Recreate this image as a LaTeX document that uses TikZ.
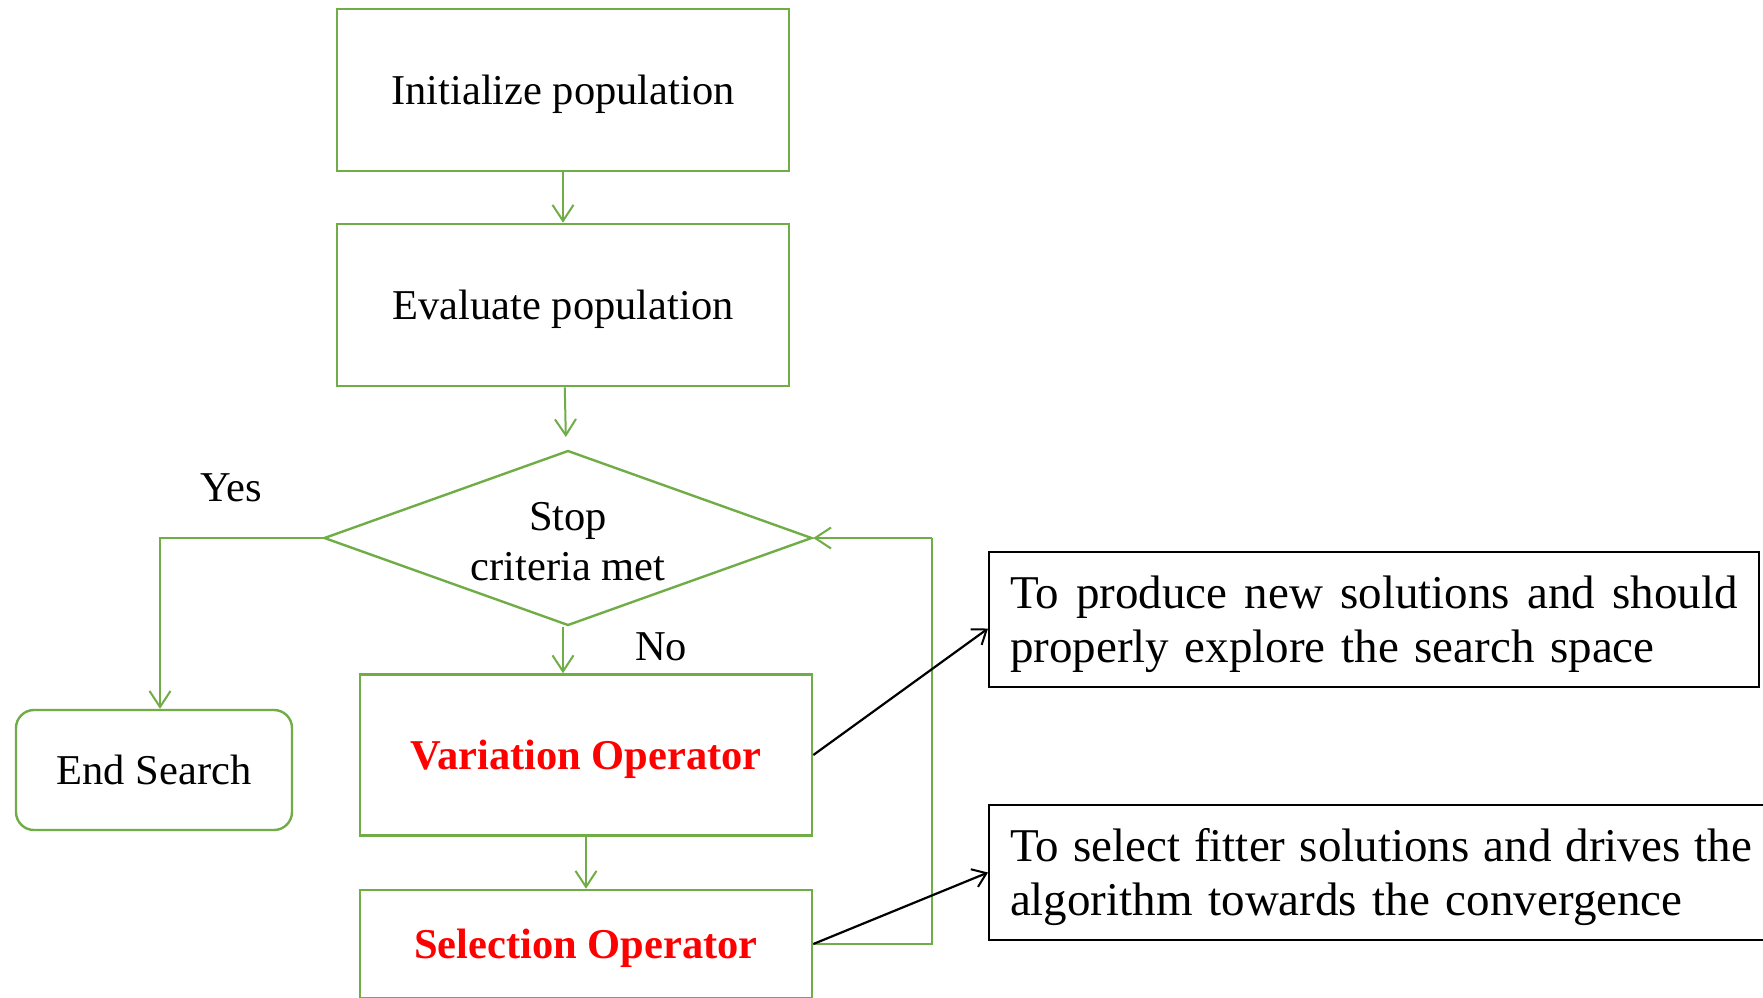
\documentclass[tikz,border=0pt]{standalone}
\usepackage{fontspec}
\setmainfont{Liberation Serif}
\usetikzlibrary{shapes.geometric,arrows.meta}
\definecolor{flowgreen}{RGB}{112,173,71}
\definecolor{oprred}{RGB}{255,0,0}
\tikzset{
  mainfont/.style={font=\fontsize{42.5}{50}\selectfont},
  notefont/.style={font=\fontsize{47}{54}\selectfont},
  stepbox/.style={draw=flowgreen, line width=2.6pt, rectangle, inner sep=0pt,
    minimum width=452pt, text depth=0pt, mainfont},
  decision/.style={draw=flowgreen, line width=2.4pt, diamond, aspect=2.8, inner sep=0pt,
    minimum width=488pt, minimum height=175pt, align=center,
    text height=85pt, text depth=0pt, mainfont},
  termbox/.style={draw=flowgreen, line width=2.4pt, rectangle, rounded corners=18pt,
    inner sep=0pt, minimum width=276pt, minimum height=120pt, mainfont},
  notebox/.style={draw=black, line width=2pt, rectangle, inner sep=0pt,
    align=left, text height=32pt, text depth=54pt, notefont},
  opname/.style={text=oprred, font=\fontsize{42.5}{50}\selectfont\bfseries},
  lbl/.style={mainfont, inner sep=0pt},
  garrow/.style={draw=flowgreen, line width=2pt,
    -{Straight Barb[length=16pt, width=21pt, line width=2pt]}},
  loopline/.style={draw=flowgreen, line width=1.5pt},
  barrow/.style={draw=black, line width=2.2pt,
    -{Straight Barb[length=13pt, width=19pt, line width=2pt]}},
}
\begin{document}
\begin{tikzpicture}[x=1pt, y=-1pt]
\useasboundingbox (0,0) rectangle (1763,997);
\clip (0,0) rectangle (1763,997);
\fill[white] (0,0) rectangle (1763,997);

% flow chart steps
\node[stepbox, minimum height=162pt] (init) at (563,90) {Initialize population};
\node[stepbox, minimum height=162pt] (eval) at (563,305) {Evaluate population};
\node[decision] (dia) at (568,538) {Stop\\criteria met};
\node[termbox] (endn) at (154,770) {End Search};
\node[stepbox, minimum height=161pt, opname] (var) at (586,755) {Variation Operator};
\node[stepbox, minimum height=108pt, opname] (sel) at (586,944) {Selection Operator};

% explanatory notes (first line spread to the full measure)
\node[notebox, minimum width=770pt, minimum height=135pt, text width=728pt]
  (note1) at (1374,619.5)
  {\makebox[728pt][l]{To\hfill produce\hfill new\hfill solutions\hfill and\hfill should}\\properly explore the search space};
\node[notebox, minimum width=811pt, minimum height=135pt, text width=769pt]
  (note2) at (1394.5,872.5)
  {\makebox[742pt][l]{To\hfill select\hfill fitter\hfill solutions\hfill and\hfill drives\hfill the}\\algorithm towards the convergence};

% branch labels
\node[lbl] (yes) at (231,488) {Yes};
\node[lbl] (no) at (661,647) {No};

% connectors
\coordinate (loopx) at (932,0);
\draw[garrow] (init) -- (eval);
\draw[garrow, shorten >=13pt] (eval) -- (dia);
\draw[garrow] (eval.south |- dia.south) -- (eval.south |- var.north);
\draw[garrow] (var) -- (sel);
\draw[garrow] (dia.west) -| ([xshift=6pt]endn.north);
\draw[loopline] (sel.east) -- (sel.east -| loopx) -- (loopx |- dia.east);
\draw[garrow, line width=1.5pt] (loopx |- dia.east) -- (dia.east);
\draw[barrow] (var.east) -- ([yshift=-9pt]note1.west);
\draw[barrow] (sel.east) -- (note2.west);
\end{tikzpicture}
\end{document}
